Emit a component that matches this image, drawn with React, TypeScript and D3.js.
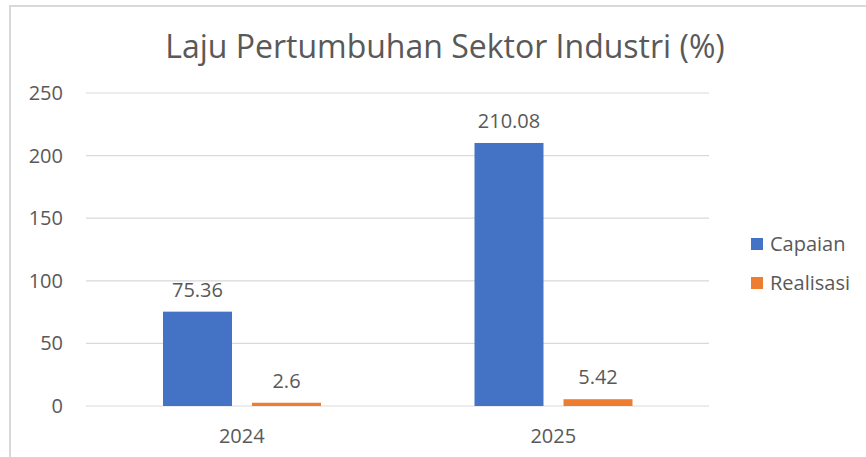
import React from "react";
import * as d3 from "d3";

const years = ["2024", "2025"];
const seriesNames = ["Capaian", "Realisasi"];
const capaian = [75.36, 210.08];
const realisasi = [2.6, 5.42];
const yTicks = [0, 50, 100, 150, 200, 250];
const colors = ["#4472C4", "#ED7D31"];

const App = () => {
  const svgRef = React.useRef<SVGSVGElement>(null);

  React.useEffect(() => {
    const svg = d3.select(svgRef.current);
    svg.selectAll("*").remove();
    const W = 866;
    const H = 457;
    const font = "'Open Sans', sans-serif";
    const textColor = "#595959";

    svg.append("rect").attr("width", W).attr("height", H).attr("fill", "#fff");

    // outer chart border (only top and left visible in the crop)
    svg.append("line").attr("x1", 9).attr("x2", W).attr("y1", 6).attr("y2", 6)
      .attr("stroke", "#d9d9d9").attr("stroke-width", 2);
    svg.append("line").attr("x1", 10).attr("x2", 10).attr("y1", 5).attr("y2", H)
      .attr("stroke", "#d9d9d9").attr("stroke-width", 2);

    svg.append("text")
      .attr("x", 445)
      .attr("y", 58)
      .attr("text-anchor", "middle")
      .attr("font-family", font)
      .attr("font-size", 32)
      .attr("fill", textColor)
      .text("Laju Pertumbuhan Sektor Industri (%)");

    const plotLeft = 86;
    const plotRight = 709;

    const y = d3.scaleLinear().domain([0, 250]).range([406, 93]);

    const x0 = d3.scaleBand().domain(years).range([plotLeft, plotRight]).padding(0);
    const x1 = d3
      .scaleBand()
      .domain(seriesNames)
      .range([77, 235])
      .paddingInner(0.225)
      .paddingOuter(0);

    // gridlines
    svg.append("g")
      .selectAll("line")
      .data(yTicks)
      .enter()
      .append("line")
      .attr("x1", plotLeft)
      .attr("x2", plotRight)
      .attr("y1", (d) => y(d))
      .attr("y2", (d) => y(d))
      .attr("stroke", "#d9d9d9")
      .attr("stroke-width", 1.2);

    svg.append("g")
      .selectAll("text")
      .data(yTicks)
      .enter()
      .append("text")
      .attr("x", 63)
      .attr("y", (d) => y(d) + 7)
      .attr("text-anchor", "end")
      .attr("font-family", font)
      .attr("font-size", 20)
      .attr("fill", textColor)
      .text((d) => d);

    const rows = years.map((yr, i) => ({
      year: yr,
      values: [
        { name: seriesNames[0], value: capaian[i] },
        { name: seriesNames[1], value: realisasi[i] },
      ],
    }));

    const groups = svg.append("g")
      .selectAll("g")
      .data(rows)
      .enter()
      .append("g")
      .attr("transform", (d) => `translate(${x0(d.year)},0)`);

    groups.selectAll("rect")
      .data((d) => d.values)
      .enter()
      .append("rect")
      .attr("x", (d) => x1(d.name))
      .attr("y", (d) => y(d.value))
      .attr("width", x1.bandwidth())
      .attr("height", (d) => y(0) - y(d.value))
      .attr("fill", (d, i) => colors[i]);

    groups.selectAll("text.lbl")
      .data((d) => d.values)
      .enter()
      .append("text")
      .attr("class", "lbl")
      .attr("x", (d) => x1(d.name) + x1.bandwidth() / 2)
      .attr("y", (d) => y(d.value) - 15)
      .attr("text-anchor", "middle")
      .attr("font-family", font)
      .attr("font-size", 20)
      .attr("fill", textColor)
      .text((d) => d.value);

    svg.append("g")
      .selectAll("text")
      .data(years)
      .enter()
      .append("text")
      .attr("x", (d) => x0(d) + x0.bandwidth() / 2)
      .attr("y", 443)
      .attr("text-anchor", "middle")
      .attr("font-family", font)
      .attr("font-size", 20)
      .attr("fill", textColor)
      .text((d) => d);

    // legend
    const legend = svg.append("g")
      .selectAll("g")
      .data(seriesNames)
      .enter()
      .append("g")
      .attr("transform", (d, i) => `translate(751, ${244 + i * 39})`);

    legend.append("rect")
      .attr("x", 0)
      .attr("y", -6)
      .attr("width", 12)
      .attr("height", 12)
      .attr("fill", (d, i) => colors[i]);

    legend.append("text")
      .attr("x", 19)
      .attr("y", 7)
      .attr("font-family", font)
      .attr("font-size", 20)
      .attr("fill", textColor)
      .text((d) => d);
  }, []);

  return (
    <svg
      ref={svgRef}
      width="866"
      height="457"
      style={{ position: "absolute", left: 0, top: 0 }}
    ></svg>
  );
};

export default App;
